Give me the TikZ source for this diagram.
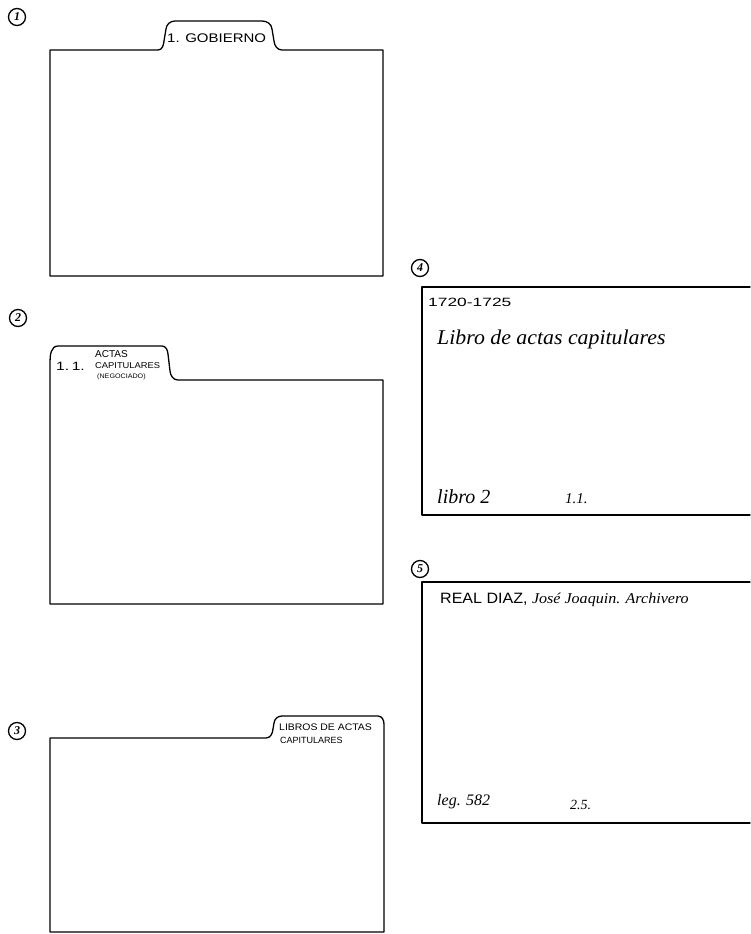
\documentclass[tikz,border=0pt]{standalone}
\usepackage{fontspec}
\setmainfont{Liberation Sans}
\newfontfamily\handfont{Liberation Serif}
\begin{document}
\begin{tikzpicture}[x=1pt,y=-1pt,line join=round,line cap=round]
\useasboundingbox (0,0) rectangle (750,934);
\tikzset{
  folder/.style={draw=black,line width=1.3pt},
  lab/.style={inner sep=0pt,anchor=west},
  num/.style={draw,circle,line width=1.3pt,inner sep=0pt,minimum size=17pt,font=\fontsize{12}{12}\selectfont\handfont\itshape\bfseries},
  caps/.style={lab,font=\fontsize{#1}{#1}\selectfont},
  hand/.style={lab,font=\fontsize{#1}{#1}\selectfont\handfont\itshape}
}
% circled numbers
\node[num] (n1) at (17,17) {1};
\node[num] (n2) at (18,318) {2};
\node[num] (n3) at (17,731) {3};
\node[num] (n4) at (420,268) {4};
\node[num] (n5) at (420,569) {5};

% folder 1
\draw[folder] (50,276) -- (50,50) -- (158,50) to[out=0,in=-95] (164,41) -- (166,29)
  to[out=85,in=180] (175,21) -- (262,21) to[out=0,in=95] (272,29) -- (274,41)
  to[out=-85,in=180] (282,50) -- (383,50) -- (383,276) -- cycle;
\node[caps=12.5] (t1) at (167,38) {\scalebox{1.2}[1]{1. GOBIERNO}};

% folder 2
\draw[folder] (50,604) -- (50,362) to[out=90,in=180] (58,346) -- (162,346)
  to[out=0,in=95] (168,354) -- (170,371) to[out=-85,in=180] (178,380)
  -- (383,380) -- (383,604) -- cycle;
\node[caps=12] (t2a) at (56,366) {\scalebox{1.3}[1]{1.\,1.}};
\node[caps=10] (t2b) at (95,354) {ACTAS};
\node[caps=8.5] (t2c) at (95,366) {\scalebox{1.1}[1]{CAPITULARES}};
\node[caps=6.5] (t2d) at (97,377) {\scalebox{1.1}[1]{(NEGOCIADO)}};

% folder 3
\draw[folder] (50,932) -- (50,738) -- (266,738) to[out=0,in=-95] (273,729)
  -- (274,723) to[out=85,in=180] (282,716) -- (378,716) to[out=0,in=90] (384,724)
  -- (384,932) -- cycle;
\node[caps=9.5] (t3a) at (279,727) {\scalebox{1.1}[1]{LIBROS DE ACTAS}};
\node[caps=9] (t3b) at (280,740) {CAPITULARES};

% card 4
\draw[folder] (750,287) -- (422,287) -- (422,515) -- (750,515);
\node[caps=12] (c4a) at (428,302) {\scalebox{1.45}[1]{1720-1725}};
\node[hand=21] (c4b) at (437,339) {\scalebox{1.04}[1]{Libro de actas capitulares}};
\node[hand=20] (c4c) at (437,497) {libro 2};
\node[hand=15] (c4d) at (565,499) {1.1.};

% card 5
\draw[folder] (750,582) -- (422,582) -- (422,823) -- (750,823);
\node[caps=15] (c5a) at (440,600) {\scalebox{1.07}[1]{REAL DIAZ, {\handfont\itshape José Joaquin. Archivero}}};
\node[hand=16] (c5b) at (437,802) {leg. 582};
\node[hand=14] (c5c) at (570,805) {2.5.};
\end{tikzpicture}
\end{document}
